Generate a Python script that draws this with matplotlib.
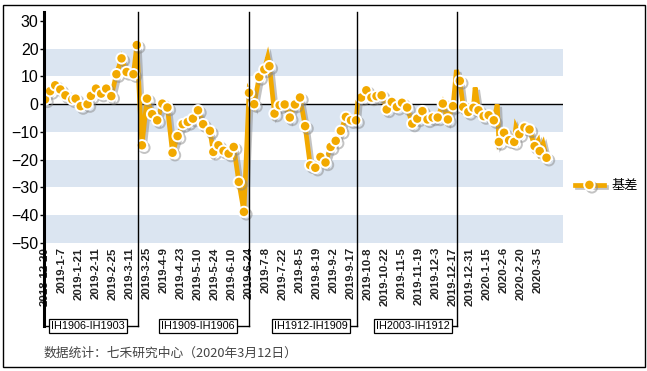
import matplotlib.pyplot as plt
import matplotlib.patheffects as pe
from matplotlib.patches import Rectangle
from matplotlib.transforms import blended_transform_factory

plt.rcParams['font.family'] = ['Liberation Sans', 'DejaVu Sans']

# trading-day index -> basis value
days = [0, 3, 6, 9, 12, 16, 18, 21, 25, 27, 30, 33, 36, 39, 42, 45, 48, 52, 54,
        57, 60, 63, 66, 69, 72, 75, 78, 81, 84, 87, 90, 93, 97, 99, 102, 105, 108,
        111, 114, 117, 120, 123, 126, 129, 131, 132, 135, 138, 141, 144, 147, 150,
        153, 156, 159, 162, 165, 168, 171, 174, 177, 180, 183, 184, 186, 189, 192,
        195, 198, 201, 204, 207, 210, 213, 216, 219, 222, 225, 228, 231, 234, 237,
        240, 242, 244, 246, 249, 252, 253, 255, 258, 261, 264, 266, 267, 270, 273,
        276, 277, 279, 282, 285, 288, 290, 291, 293, 295]
basis = [1.7, 4.7, 6.8, 5.3, 3.2, 1.7, 2.0, -0.7, 0.0, 3.0, 5.6, 3.8, 5.6, 2.9, 10.8,
         16.5, 11.6, 10.8, 21.3, -14.8, 2.0, -3.6, -5.8, 0.2, -1.2, -17.5, -11.5,
         -7.2, -6.4, -5.2, -2.2, -7.2, -9.6, -17.2, -14.8, -16.8, -17.8, -15.4,
         -28.0, -38.8, 4.1, 0.0, 9.8, 12.5, 17.0, 13.7, -3.4, -0.4, -0.1, -4.8,
         -0.1, 2.4, -7.9, -22.0, -22.9, -19.0, -21.0, -15.4, -13.2, -9.6, -4.6,
         -5.8, -5.8, 1.1, 2.4, 5.0, 2.4, 2.9, 3.2, -1.9, 0.8, -1.0, 0.5, -1.2,
         -7.0, -5.2, -2.5, -5.5, -4.8, -4.8, 0.2, -5.5, -0.7, 12.3, 8.4, -1.0,
         -2.8, -1.3, 6.0, -2.2, -4.3, -4.0, -5.8, -0.1, -13.6, -10.3, -13.0,
         -13.6, -8.2, -10.8, -8.4, -9.1, -15.1, -13.2, -16.9, -14.2, -19.3]
# days where the line spikes without a marker
spike_days = [131, 184, 242, 253, 266, 277, 290, 293]

tick_labels = ['2018-12-20', '2019-1-7', '2019-1-21', '2019-2-11', '2019-2-25',
               '2019-3-11', '2019-3-25', '2019-4-9', '2019-4-23', '2019-5-10',
               '2019-5-24', '2019-6-10', '2019-6-24', '2019-7-8', '2019-7-22',
               '2019-8-5', '2019-8-19', '2019-9-2', '2019-9-17', '2019-10-8',
               '2019-10-22', '2019-11-5', '2019-11-19', '2019-12-3', '2019-12-17',
               '2019-12-31', '2020-1-15', '2020-2-6', '2020-2-20', '2020-3-5']

roll_days = [54.7, 120, 183.5, 242.4]
roll_names = ['IH1906-IH1903', 'IH1909-IH1906', 'IH1912-IH1909', 'IH2003-IH1912']
box_days = [25.3, 90, 156.5, 216.5]

orange = '#f2a900'
W, H = 647, 371
fig = plt.figure(figsize=(W / 100, H / 100), dpi=100)
ax = fig.add_axes([44 / W, 1 - 243 / H, (563 - 44) / W, (243 - 12) / H])

ax.set_xlim(-0.6, 304.7)
ax.set_ylim(-50, 33.2)

for lo in [10, -10, -30, -50]:
    ax.axhspan(lo, lo + 10, color='#dbe5f1', lw=0, zorder=0)
ax.axhline(0, color='black', lw=1, zorder=1)

marks = [i for i, d in enumerate(days) if d not in spike_days]
ax.plot(days, basis, color=orange, lw=3.4, solid_joinstyle='miter',
        marker='o', markevery=marks, markersize=7.5, markerfacecolor=orange,
        markeredgecolor='white', markeredgewidth=1.4, label='基差', zorder=3,
        path_effects=[pe.SimpleLineShadow(offset=(1.8, -1.8), shadow_color='#888888', alpha=0.5),
                      pe.Normal()])

for s in ['top', 'right', 'bottom', 'left']:
    ax.spines[s].set_visible(False)

ax.set_yticks(range(-50, 31, 10))
ax.tick_params(axis='y', labelsize=11.5, length=3, width=1, pad=1, colors='black')
ax.set_xticks(range(0, 300, 10))
ax.set_xticklabels(tick_labels, rotation=90, fontsize=8.2, fontweight='bold', color='#222222')
ax.tick_params(axis='x', length=0, pad=3)

# left axis line, extending down to bracket
trans = blended_transform_factory(ax.transData, ax.transAxes)
y_br = (243 - 326) / (243 - 12)
ax.plot([-0.6, -0.6], [1.0, y_br], color='black', lw=2.2, transform=trans, clip_on=False, zorder=5)

for i, (rd, bd, name) in enumerate(zip(roll_days, box_days, roll_names)):
    ax.plot([rd, rd], [1.0, y_br], color='black', lw=1, transform=trans, clip_on=False, zorder=4)
    x0 = -0.6 if i == 0 else bd
    ax.plot([x0, rd], [y_br, y_br], color='black', lw=1, transform=trans, clip_on=False, zorder=4)
    ax.text(bd, y_br, name, transform=trans, ha='center', va='center', fontsize=7.8,
            zorder=6, bbox=dict(boxstyle='square,pad=0.2', fc='white', ec='black', lw=0.9))

ax.legend(loc='center left', bbox_to_anchor=(563 / W, 1 - 186 / H), bbox_transform=fig.transFigure,
          frameon=False, handlelength=2.2, handletextpad=0.6,
          prop={'family': ['Noto Sans CJK SC'], 'size': 9.5})

fig.text(44 / W, 1 - 353 / H, '数据统计：七禾研究中心（2020年3月12日）', fontsize=9.2,
         family=['Noto Sans CJK SC', 'DejaVu Sans'], color='#444444', va='center')

fig.add_artist(Rectangle((3 / W, 1 - 367 / H), (645 - 3) / W, (367 - 5) / H,
                         transform=fig.transFigure, fill=False, ec='black', lw=1))

fig.savefig('out.png', dpi=100)
